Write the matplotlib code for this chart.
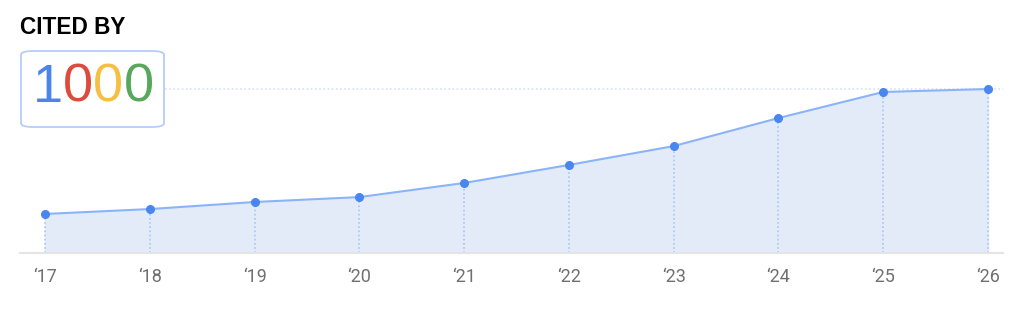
import matplotlib.pyplot as plt
from matplotlib.patches import FancyBboxPatch

# data
years = ['\u201817', '\u201818', '\u201819', '\u201820', '\u201821',
         '\u201822', '\u201823', '\u201824', '\u201825', '\u201826']
citations = [238, 268, 311, 341, 427, 537, 652, 823, 982, 1000]
total = '1000'
digit_colors = ['#4a86e8', '#dd4b3e', '#f4bf42', '#57a85a']

plt.rcParams['font.family'] = ['Roboto', 'DejaVu Sans']

fig = plt.figure(figsize=(10.24, 3.12), dpi=100)
W, H = 1024, 312
ax = fig.add_axes([20 / W, (H - 253) / H, (1003 - 20) / W, (253 - 60) / H])

x = list(range(len(years)))
ax.fill_between(x, citations, 0, color='#e3ebf9', zorder=1)
ax.vlines(x, 0, citations, colors='#a8c5f7', linestyles=(0, (1, 1.5)), linewidth=1.2, zorder=2)
ax.plot(x, citations, color='#8ab4f8', linewidth=1.5, zorder=3)
ax.plot(x, citations, 'o', color='#4a86f0', markersize=5.5, zorder=4)
ax.axhline(max(citations), xmin=(165 - 20) / (1003 - 20), xmax=1,
           color='#d6e2fb', linestyle=(0, (1, 1.5)), linewidth=1.2, zorder=0)

ax.set_xlim(-0.239, 9.143)
ax.set_ylim(0, 1177)
ax.set_xticks(x)
ax.set_xticklabels(years, fontsize=13, color='#707070')
ax.tick_params(axis='x', length=0, pad=11)
ax.set_yticks([])
for s in ['top', 'right', 'left']:
    ax.spines[s].set_visible(False)
ax.spines['bottom'].set_color('#e4e4e4')
ax.spines['bottom'].set_linewidth(1.5)

# header
fig.text(20 / W, 1 - 27 / H, 'CITED BY', fontsize=16.3, fontweight='bold',
         family=['Liberation Sans', 'DejaVu Sans'], va='center', ha='left')

# box with total count
box = FancyBboxPatch((21 / W, 1 - 127 / H), (164 - 21) / W, (127 - 51) / H,
                     boxstyle='round,pad=0,rounding_size=0.012',
                     transform=fig.transFigure, facecolor='white',
                     edgecolor='#b5cdfa', linewidth=1.3, zorder=5)
fig.patches.append(box)

renderer = fig.canvas.get_renderer()
xpos = 33 / W
for d, c in zip(total, digit_colors):
    t = fig.text(xpos, 1 - 88 / H, d, fontsize=39, color=c, va='center',
                 ha='left', zorder=6, family=['Liberation Sans', 'DejaVu Sans'])
    bb = t.get_window_extent(renderer=renderer)
    xpos = bb.x1 / W

fig.savefig('out.png', dpi=100)
